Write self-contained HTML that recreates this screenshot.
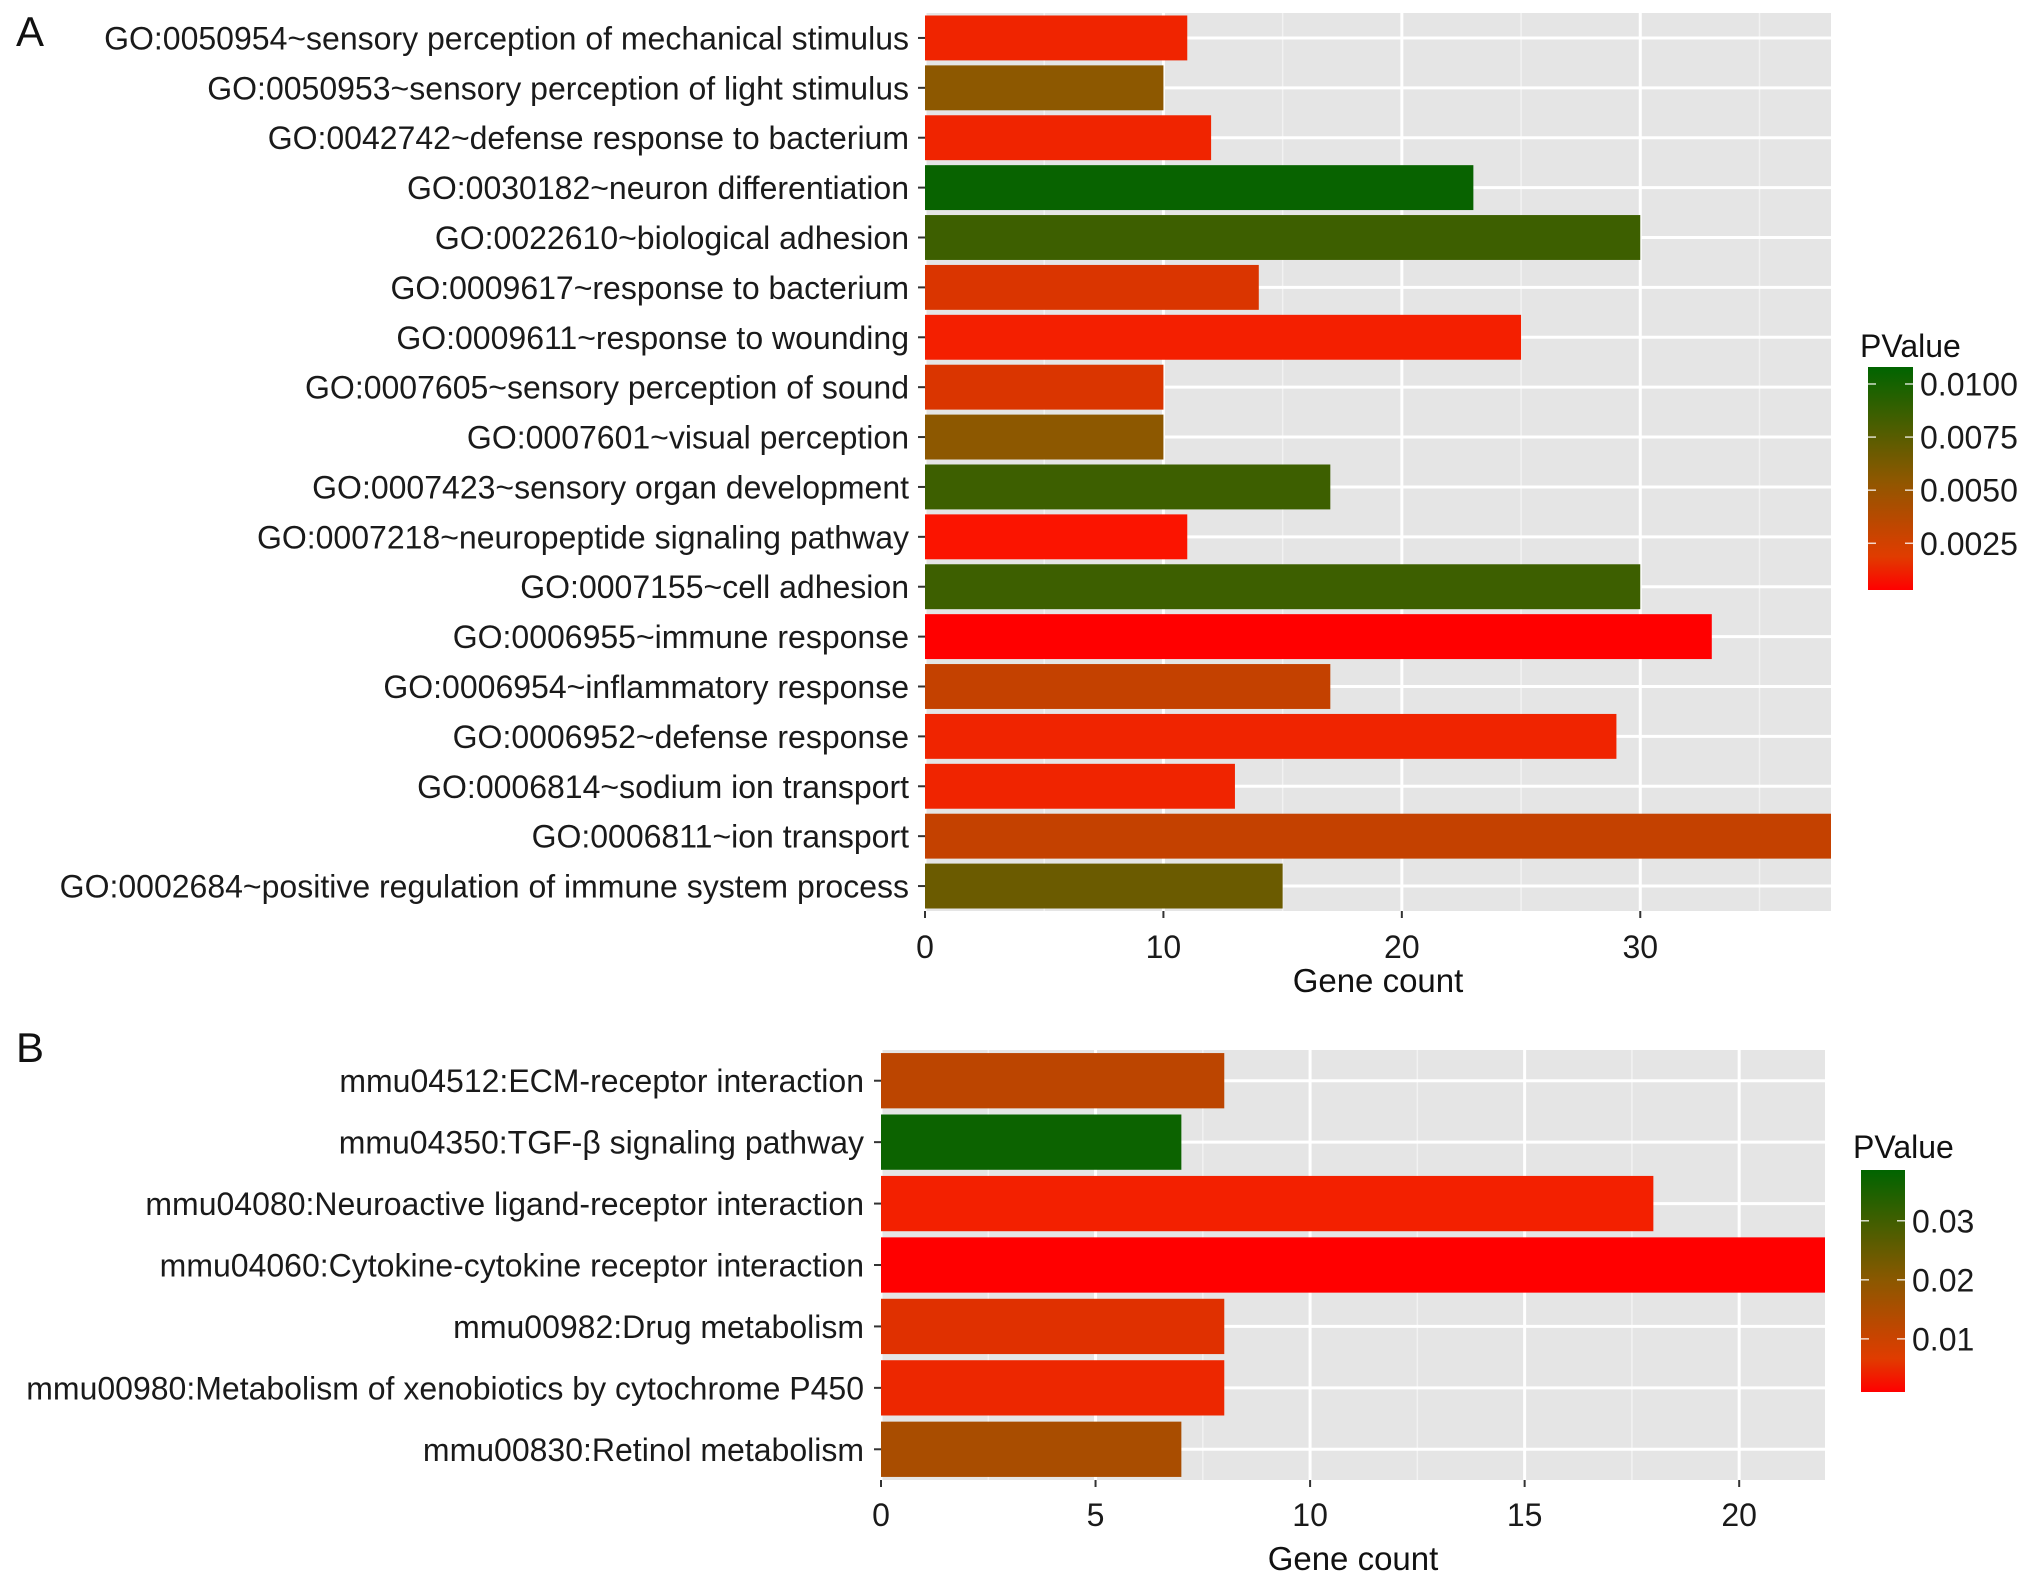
<!DOCTYPE html>
<html><head><meta charset="utf-8"><style>
html,body{margin:0;padding:0;background:#fff;}
svg{display:block;font-family:"Liberation Sans",Arial,sans-serif;}
</style></head><body>
<svg id="chart" width="2032" height="1582" viewBox="0 0 2032 1582" xmlns="http://www.w3.org/2000/svg">
<defs>
<linearGradient id="gradA" x1="0" y1="1" x2="0" y2="0"><stop offset="0" stop-color="#ff0000"/><stop offset="0.15" stop-color="#e03c00"/><stop offset="0.5" stop-color="#8c5800"/><stop offset="1" stop-color="#006400"/></linearGradient>
<linearGradient id="gradB" x1="0" y1="1" x2="0" y2="0"><stop offset="0" stop-color="#ff0000"/><stop offset="0.15" stop-color="#e03c00"/><stop offset="0.5" stop-color="#8c5800"/><stop offset="1" stop-color="#006400"/></linearGradient>
</defs>
<g id="panelA"></g>
<g id="panelB"></g>
</svg>
<script>
const catA = ["GO:0050954~sensory perception of mechanical stimulus","GO:0050953~sensory perception of light stimulus","GO:0042742~defense response to bacterium","GO:0030182~neuron differentiation","GO:0022610~biological adhesion","GO:0009617~response to bacterium","GO:0009611~response to wounding","GO:0007605~sensory perception of sound","GO:0007601~visual perception","GO:0007423~sensory organ development","GO:0007218~neuropeptide signaling pathway","GO:0007155~cell adhesion","GO:0006955~immune response","GO:0006954~inflammatory response","GO:0006952~defense response","GO:0006814~sodium ion transport","GO:0006811~ion transport","GO:0002684~positive regulation of immune system process"];
const countA = [11,10,12,23,30,14,25,10,10,17,11,30,33,17,29,13,38,15];
const pvalA = [0.001,0.0055,0.001,0.0105,0.0085,0.002,0.0008,0.002,0.0055,0.0085,0.0005,0.0085,0.0003,0.003,0.001,0.001,0.003,0.0068];
const ticksA = [0,10,20,30];
const legendTicksA = [0.0100,0.0075,0.0050,0.0025];
const legendLabelsA = ["0.0100","0.0075","0.0050","0.0025"];

const catB = ["mmu04512:ECM-receptor interaction","mmu04350:TGF-β signaling pathway","mmu04080:Neuroactive ligand-receptor interaction","mmu04060:Cytokine-cytokine receptor interaction","mmu00982:Drug metabolism","mmu00980:Metabolism of xenobiotics by cytochrome P450","mmu00830:Retinol metabolism"];
const countB = [8,7,18,22,8,8,7];
const pvalB = [0.012,0.037,0.003,0.001,0.006,0.004,0.015];
const ticksB = [0,5,10,15,20];
const legendTicksB = [0.03,0.02,0.01];
const legendLabelsB = ["0.03","0.02","0.01"];

const NS="http://www.w3.org/2000/svg";
function mk(parent,tag,attrs,text){const e=document.createElementNS(NS,tag);for(const k in attrs)e.setAttribute(k,attrs[k]);if(text!==undefined)e.textContent=text;parent.appendChild(e);return e;}
function lerp(a,b,t){return Math.round(a+(b-a)*t);}
function colorFor(p,min,max){let t=(p-min)/(max-min);t=Math.max(0,Math.min(1,t));
  if(t<0.5){const u=t*2;return `rgb(${lerp(255,140,u)},${Math.round(88*Math.pow(u,0.45))},0)`;}
  const u=(t-0.5)*2;return `rgb(${lerp(140,0,u)},${lerp(88,100,u)},0)`;}

function drawPanel(g,cfg){
  const {cats,counts,pvals,ticks,minorStep,xMax,L,R,T,B,labelX,tickY,titleY,pMin,pMax,leg,legTicks,legLabels,grad,letter,letterY,fs}=cfg;
  const xs=v=>L+(v/xMax)*(R-L);
  const n=cats.length, step=(B-T)/n;
  const ys=i=>T+step*(i+0.5);
  const bg=mk(g,'rect',{x:L,y:T,width:R-L,height:B-T,fill:'#e5e5e5'});
  
  
  for(let v=minorStep;v<xMax;v+=minorStep*2){const gl=mk(g,'line',{x1:xs(v),x2:xs(v),y1:T,y2:B,stroke:'#f2f2f2','stroke-width':1.5});}
  ticks.forEach(v=>{const gl=mk(g,'line',{x1:xs(v),x2:xs(v),y1:T,y2:B,stroke:'#fff','stroke-width':3});});
  cats.forEach((c,i)=>{const gl=mk(g,'line',{x1:L,x2:R,y1:ys(i),y2:ys(i),stroke:'#fff','stroke-width':3});});
  const bh=step*0.9;
  cats.forEach((c,i)=>{
    const bar=mk(g,'rect',{x:xs(0),y:ys(i)-bh/2,width:xs(counts[i])-xs(0),height:bh,fill:colorFor(pvals[i],pMin,pMax)});
    
    
    const tk=mk(g,'line',{x1:L-7,x2:L,y1:ys(i),y2:ys(i),stroke:'#333','stroke-width':2});
    
    
    const lb=mk(g,'text',{x:labelX,y:ys(i)+fs*0.36,'text-anchor':'end','font-size':fs,fill:'#1a1a1a'},c);
    
    
  });
  ticks.forEach(v=>{
    const tk=mk(g,'line',{x1:xs(v),x2:xs(v),y1:B,y2:B+7,stroke:'#333','stroke-width':2});
    
    
    const tl=mk(g,'text',{x:xs(v),y:tickY,'text-anchor':'middle','font-size':fs,fill:'#1a1a1a'},String(v));
    
    
  });
  const xt=mk(g,'text',{x:(L+R)/2,y:titleY,'text-anchor':'middle','font-size':fs+1,fill:'#111'},'Gene count');
  
  
  const lt=mk(g,'text',{x:leg.x-8,y:leg.titleY,'font-size':fs,fill:'#111'},'PValue');
  
  
  const cb=mk(g,'rect',{x:leg.x,y:leg.top,width:leg.w,height:leg.bot-leg.top,fill:`url(#${grad})`});
  
  
  const ly=p=>leg.bot-(p-pMin)/(pMax-pMin)*(leg.bot-leg.top);
  legTicks.forEach((p,i)=>{
    mk(g,'line',{x1:leg.x,x2:leg.x+8,y1:ly(p),y2:ly(p),stroke:'#fff','stroke-width':1.5,opacity:0.8});
    mk(g,'line',{x1:leg.x+leg.w-8,x2:leg.x+leg.w,y1:ly(p),y2:ly(p),stroke:'#fff','stroke-width':1.5,opacity:0.8});
    const ll=mk(g,'text',{x:leg.x+leg.w+7,y:ly(p)+fs*0.36,'font-size':fs,fill:'#1a1a1a'},legLabels[i]);
    
    
  });
  const pl=mk(g,'text',{x:16,y:letterY,'font-size':42,fill:'#111'},letter);
  
  
}

drawPanel(document.getElementById('panelA'),{cats:catA,counts:countA,pvals:pvalA,ticks:ticksA,minorStep:5,xMax:38,
  L:925,R:1831,T:13,B:911,labelX:909,tickY:958,titleY:992,pMin:0.0003,pMax:0.0108,
  leg:{x:1868,w:45,top:367,bot:590,titleY:357},legTicks:legendTicksA,legLabels:legendLabelsA,grad:'gradA',letter:'A',letterY:46,fs:32});
drawPanel(document.getElementById('panelB'),{cats:catB,counts:countB,pvals:pvalB,ticks:ticksB,minorStep:2.5,xMax:22,
  L:881,R:1825,T:1050,B:1480,labelX:864,tickY:1526,titleY:1570,pMin:0.001,pMax:0.0386,
  leg:{x:1861,w:44,top:1170,bot:1392,titleY:1158},legTicks:legendTicksB,legLabels:legendLabelsB,grad:'gradB',letter:'B',letterY:1062,fs:32});
</script>
</body></html>
